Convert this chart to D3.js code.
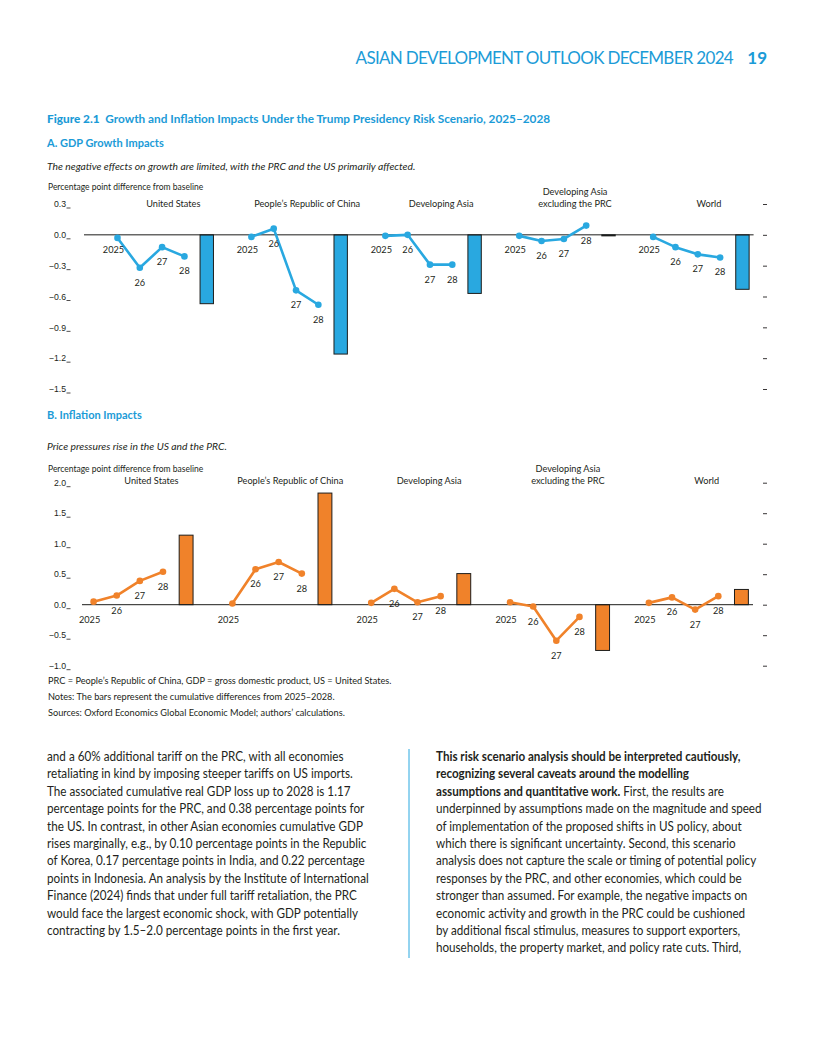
<!DOCTYPE html>
<html>
<head>
<meta charset="utf-8">
<script src="https://cdn.jsdelivr.net/npm/d3@7/dist/d3.min.js"></script>
<style>
  body { margin: 0; background: #fff; }
  svg { display: block; font-family: Lato, 'Noto Sans', sans-serif; }
  .tick text { font-size: 8.7px; fill: #231f20; }
</style>
</head>
<body>
<svg id="page" width="816" height="1056"></svg>
<script>
// ---- data ----
const regions = ['United States', 'People\u2019s Republic of China', 'Developing Asia', 'Developing Asia|excluding the PRC', 'World'];
const years = ['2025', '26', '27', '28'];

// A. GDP growth impacts, percentage points from baseline
const gdpUS = [-0.03, -0.32, -0.12, -0.21];
const gdpPRC = [-0.02, 0.06, -0.54, -0.68];
const gdpDevAsia = [-0.01, 0.00, -0.29, -0.29];
const gdpDevAsiaExPRC = [-0.01, -0.06, -0.04, 0.09];
const gdpWorld = [-0.02, -0.12, -0.19, -0.22];
const gdpCumulative = [-0.67, -1.16, -0.57, -0.01, -0.53];
const gdpTicks = [0.3, 0.0, -0.3, -0.6, -0.9, -1.2, -1.5];

// B. Inflation impacts
const inflUS = [0.05, 0.15, 0.39, 0.54];
const inflPRC = [0.02, 0.58, 0.70, 0.51];
const inflDevAsia = [0.03, 0.26, 0.04, 0.14];
const inflDevAsiaExPRC = [0.04, -0.03, -0.59, -0.20];
const inflWorld = [0.03, 0.12, -0.08, 0.14];
const inflCumulative = [1.14, 1.83, 0.51, -0.75, 0.25];
const inflTicks = [2.0, 1.5, 1.0, 0.5, 0.0, -0.5, -1.0];

const leftText = [
  'and a 60% additional tariff on the PRC, with all economies',
  'retaliating in kind by imposing steeper tariffs on US imports.',
  'The associated cumulative real GDP loss up to 2028 is 1.17',
  'percentage points for the PRC, and 0.38 percentage points for',
  'the US. In contrast, in other Asian economies cumulative GDP',
  'rises marginally, e.g., by 0.10 percentage points in the Republic',
  'of Korea, 0.17 percentage points in India, and 0.22 percentage',
  'points in Indonesia. An analysis by the Institute of International',
  'Finance (2024) finds that under full tariff retaliation, the PRC',
  'would face the largest economic shock, with GDP potentially',
  'contracting by 1.5\u20132.0 percentage points in the first year.'
];
// [bold part, regular part]
const rightText = [
  ['This risk scenario analysis should be interpreted cautiously,', ''],
  ['recognizing several caveats around the modelling', ''],
  ['assumptions and quantitative work.', ' First, the results are'],
  ['', 'underpinned by assumptions made on the magnitude and speed'],
  ['', 'of implementation of the proposed shifts in US policy, about'],
  ['', 'which there is significant uncertainty. Second, this scenario'],
  ['', 'analysis does not capture the scale or timing of potential policy'],
  ['', 'responses by the PRC, and other economies, which could be'],
  ['', 'stronger than assumed. For example, the negative impacts on'],
  ['', 'economic activity and growth in the PRC could be cushioned'],
  ['', 'by additional fiscal stimulus, measures to support exporters,'],
  ['', 'households, the property market, and policy rate cuts. Third,']
];

const BLUE = '#29a8e0';
const HEAD = '#1b9bd7';
const ORANGE = '#f0822a';
const INK = '#231f20';

const svg = d3.select('#page');

// ---- page header & titles ----
svg.append('text')
  .attr('x', 733).attr('y', 64)
  .attr('text-anchor', 'end')
  .style('font-size', '17px').style('font-weight', 400).style('letter-spacing', '-0.7px')
  .attr('fill', HEAD)
  .text('ASIAN DEVELOPMENT OUTLOOK DECEMBER 2024');
svg.append('text')
  .attr('x', 767).attr('y', 64)
  .attr('text-anchor', 'end')
  .style('font-size', '17px').style('font-weight', 700)
  .attr('fill', HEAD)
  .text('19');

const title = svg.append('text')
  .attr('x', 47).attr('y', 123)
  .attr('fill', HEAD)
  .style('font-size', '11.8px');
title.append('tspan').style('font-weight', 900).text('Figure 2.1');
title.append('tspan').style('font-weight', 700)
  .text('\u00a0 Growth and Inflation Impacts Under the Trump Presidency Risk Scenario, 2025\u20132028');

function panelHeading(y, gap, label, italic) {
  svg.append('text')
    .attr('x', 47).attr('y', y)
    .attr('fill', HEAD)
    .style('font-size', '11px').style('font-weight', 700)
    .text(label);
  svg.append('text')
    .attr('x', 47).attr('y', y + gap)
    .attr('fill', INK)
    .style('font-size', '10.3px').style('font-style', 'italic')
    .text(italic);
}
panelHeading(147, 23, 'A. GDP Growth Impacts', 'The negative effects on growth are limited, with the PRC and the US primarily affected.');
panelHeading(419, 30.5, 'B. Inflation Impacts', 'Price pressures rise in the US and the PRC.');

// ---- one panel of five small line+bar groups ----
function drawPanel(cfg) {
  const series = cfg.series;

  // slot layout: each group has four year slots, one bar slot and one empty spacer
  const slots = [];
  regions.forEach((r, i) => {
    if (cfg.leadGap) slots.push(`${i}-gap`);
    years.forEach(yr => slots.push(`${i}-${yr}`));
    slots.push(`${i}-bar`);
    if (!cfg.leadGap && i < regions.length - 1) slots.push(`${i}-gap`);
  });

  const x = d3.scaleBand().domain(slots).range(cfg.xRange).padding(0);
  const y = d3.scaleLinear().domain(d3.extent(cfg.ticks)).range(cfg.yRange);
  const bw = x.bandwidth();
  const cx = key => x(key) + bw / 2;

  const g = svg.append('g');

  // axis title
  g.append('text')
    .attr('x', 48).attr('y', cfg.axisTitleY)
    .attr('fill', INK)
    .style('font-size', '8.5px')
    .text('Percentage point difference from baseline');

  // left axis: labels with a short baseline tick to their right
  const yAxis = d3.axisLeft(y)
    .tickValues(cfg.ticks)
    .tickSize(0)
    .tickPadding(5)
    .tickFormat(d3.format('.1f'));
  const yAxisG = g.append('g')
    .attr('transform', 'translate(71,0)')
    .call(yAxis)
    .call(s => s.select('.domain').remove());
  yAxisG.selectAll('.tick').append('line')
    .attr('x1', -4.5).attr('x2', -0.5)
    .attr('y1', 3.5).attr('y2', 3.5)
    .attr('stroke', INK).attr('stroke-width', 0.8);

  // right axis: bare ticks
  g.append('g')
    .attr('transform', 'translate(763,0)')
    .call(d3.axisRight(y).tickValues(cfg.ticks).tickSize(4).tickFormat(''))
    .call(s => s.select('.domain').remove())
    .call(s => s.selectAll('.tick line').attr('stroke', INK).attr('stroke-width', 0.9));

  // cumulative bars
  const barData = cfg.cumulative.map((v, i) => ({ key: `${i}-bar`, value: v }));
  g.selectAll('.bar')
    .data(barData)
    .join('rect')
      .attr('class', 'bar')
      .attr('x', d => cx(d.key) - bw * 0.3)
      .attr('width', bw * 0.6)
      .attr('y', d => y(Math.max(0, d.value)))
      .attr('height', d => Math.abs(y(d.value) - y(0)))
      .attr('fill', cfg.color)
      .attr('stroke', '#1d1d1b')
      .attr('stroke-width', 1);

  // zero line
  g.append('line')
    .attr('x1', cfg.xRange[0]).attr('x2', cfg.xRange[1])
    .attr('y1', y(0)).attr('y2', y(0))
    .attr('stroke', '#1d1d1b').attr('stroke-width', 1);

  // annual lines
  const line = d3.line()
    .x(d => cx(d.key))
    .y(d => y(d.value));

  series.forEach((vals, i) => {
    const pts = vals.map((v, j) => ({ key: `${i}-${years[j]}`, value: v, year: years[j] }));
    g.append('path')
      .datum(pts)
      .attr('d', line)
      .attr('fill', 'none')
      .attr('stroke', cfg.color)
      .attr('stroke-width', 2.6)
      .attr('stroke-linejoin', 'round');
    g.selectAll(null)
      .data(pts)
      .join('circle')
        .attr('cx', d => cx(d.key))
        .attr('cy', d => y(d.value))
        .attr('r', 3.3)
        .attr('fill', cfg.color);
    g.selectAll(null)
      .data(pts)
      .join('text')
        .attr('x', d => cx(d.key) + (d.year === '2025' ? -4 : 0))
        .attr('y', d => (d.year === '2025' ? y(0) : y(d.value)) + 18)
        .attr('text-anchor', 'middle')
        .attr('fill', INK)
        .style('font-size', '9.2px')
        .text(d => d.year);
  });

  // group labels
  regions.forEach((r, i) => {
    const mid = cfg.leadGap
      ? cx(`${i}-27`) + bw / 2
      : x(`${i}-2025`) + bw * 3;
    const lines = r.split('|');
    const t = g.append('text')
      .attr('text-anchor', 'middle')
      .attr('fill', INK)
      .style('font-size', '9.2px');
    lines.forEach((ln, k) => {
      t.append('tspan')
        .attr('x', mid)
        .attr('y', cfg.labelY - (lines.length - 1 - k) * 12)
        .text(ln);
    });
  });
}

drawPanel({
  series: [gdpUS, gdpPRC, gdpDevAsia, gdpDevAsiaExPRC, gdpWorld],
  cumulative: gdpCumulative,
  ticks: gdpTicks,
  color: BLUE,
  leadGap: true,
  xRange: [84, 753.6],
  yRange: [389, 204],
  axisTitleY: 190,
  labelY: 207
});

drawPanel({
  series: [inflUS, inflPRC, inflDevAsia, inflDevAsiaExPRC, inflWorld],
  cumulative: inflCumulative,
  ticks: inflTicks,
  color: ORANGE,
  leadGap: false,
  xRange: [82, 753],
  yRange: [665.7, 482.7],
  axisTitleY: 472,
  labelY: 484
});

// ---- source notes ----
const notes = [
  'PRC = People\u2019s Republic of China, GDP = gross domestic product, US = United States.',
  'Notes: The bars represent the cumulative differences from 2025\u20132028.',
  'Sources: Oxford Economics Global Economic Model; authors\u2019 calculations.'
];
svg.selectAll('.note')
  .data(notes)
  .join('text')
    .attr('class', 'note')
    .attr('x', 48)
    .attr('y', (d, i) => 684 + i * 16)
    .attr('fill', INK)
    .style('font-size', '9.2px')
    .text(d => d);

// ---- body text in two columns ----
// squeeze each column horizontally so its longest line matches the printed measure
function fitColumn(sel, x0, maxWidth) {
  const lens = sel.nodes().map(n => n.getComputedTextLength());
  const k = Math.min(1, maxWidth / d3.max(lens));
  sel.each(function () {
    const t = d3.select(this);
    const yy = +t.attr('y');
    t.attr('x', 0).attr('y', 0)
      .attr('transform', `translate(${x0},${yy}) scale(${k},1)`);
  });
}

const leftLines = svg.selectAll('.body-left')
  .data(leftText)
  .join('text')
    .attr('class', 'body-left')
    .attr('x', 47)
    .attr('y', (d, i) => 761 + i * 17.4)
    .attr('fill', INK)
    .style('font-size', '13px')
    .text(d => d);
fitColumn(leftLines, 47, 322);

svg.append('line')
  .attr('x1', 409).attr('x2', 409)
  .attr('y1', 749).attr('y2', 958)
  .attr('stroke', BLUE).attr('stroke-width', 1);

const rightLines = svg.selectAll('.body-right')
  .data(rightText)
  .join('text')
    .attr('class', 'body-right')
    .attr('x', 436)
    .attr('y', (d, i) => 761 + i * 17.4)
    .attr('fill', INK)
    .style('font-size', '13px');
rightLines.each(function (d) {
  const t = d3.select(this);
  if (d[0]) t.append('tspan').style('font-weight', 700).text(d[0]);
  if (d[1]) t.append('tspan').text(d[1]);
});
fitColumn(rightLines, 436, 326);
</script>
</body>
</html>
